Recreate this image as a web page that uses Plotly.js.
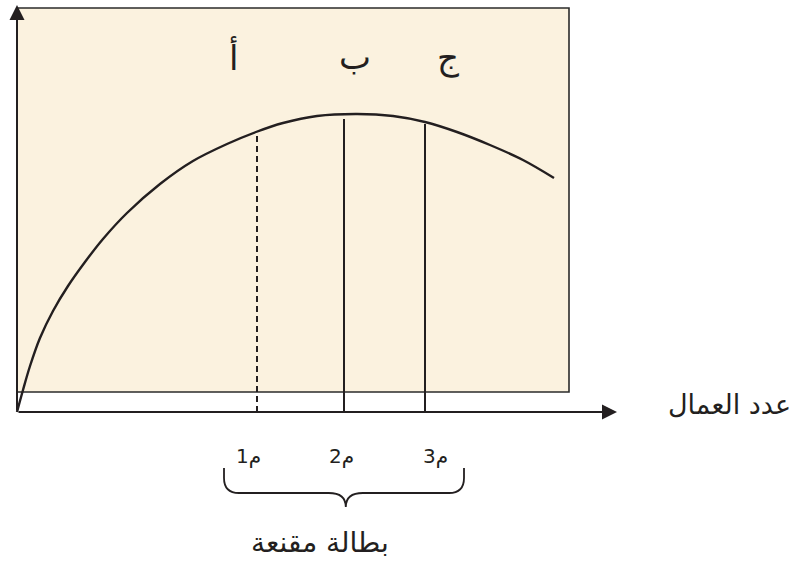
<!DOCTYPE html>
<html>
<head>
<meta charset="utf-8">
<script src="https://cdn.plot.ly/plotly-3.0.1.min.js"></script>
<style>html,body{margin:0;padding:0;background:#fff;}#chart{width:795px;height:570px;}</style>
</head>
<body>
<div id="chart"></div>
<script>
// Total product curve (number of workers vs output)
const workers = [0, 1, 2.17, 3.83, 6, 8.5, 11.33, 14.33, 18.33, 23.83, 29.33, 35, 39.83, 44.33, 50, 56.67, 62.67, 68, 73.33, 78.83, 84.33, 89.5];
const output  = [0, 5.5, 11.5, 18.5, 25.25, 31.5, 37.5, 43.25, 49.75, 57, 62.75, 67, 70, 72.25, 74, 74.5, 74, 72.5, 70, 66.75, 63, 58.5];

// Marked worker levels and the heights of their vertical lines
const levelLabels = ["م1", "م2", "م3"];
const levels      = [40, 54.5, 68];
const levelTops   = [70, 73.25, 72];
const pointLabels = ["أ", "ب", "ج"];
const pointLabelX = [36, 56.3, 71.8];

const xTitle = "عدد العمال";
const braceTitle = "بطالة مقنعة";

// Frame (beige panel) extent in data units
const panelX = [0, 92];
const panelY = [5, 101];
const xAxisEnd = 100;
const yAxisEnd = 101.75;
const braceSpan = [34.5, 74.5];

const ink = '#231f20';
const traces = [
  {x: workers, y: output, mode: 'lines', line: {color: ink, width: 2.4, shape: 'spline', smoothing: 1}, hoverinfo: 'skip'},
  {x: [levels[0], levels[0]], y: [0, levelTops[0]], mode: 'lines', line: {color: ink, width: 2, dash: '6px,4px'}, hoverinfo: 'skip'},
  {x: [levels[1], levels[1], null, levels[2], levels[2]], y: [0, levelTops[1], null, 0, levelTops[2]], mode: 'lines', line: {color: ink, width: 2}, hoverinfo: 'skip'}
];

// brace path in data units built from its span
function bracePath(l, r) {
  const c = (l + r) / 2 + 0.3;
  const yTop = -14, yEnd = -16.5, yMid = -20.25, yTip = -23.75, k = 2.5, m = 2.85;
  return `M ${l} ${yTop} L ${l} ${yEnd} Q ${l} ${yMid} ${l + k} ${yMid} L ${c - m} ${yMid} Q ${c} ${yMid} ${c} ${yTip} ` +
         `Q ${c} ${yMid} ${c + m} ${yMid} L ${r - k} ${yMid} Q ${r} ${yMid} ${r} ${yEnd} L ${r} ${yTop}`;
}

const shapes = [
  {type: 'rect', xref: 'x', yref: 'y', x0: panelX[0], x1: panelX[1], y0: panelY[0], y1: panelY[1],
   fillcolor: '#FBF2DF', line: {color: '#2b2b2b', width: 1.6}, layer: 'below'},
  {type: 'path', xref: 'x', yref: 'y', path: bracePath(braceSpan[0], braceSpan[1]), line: {color: ink, width: 1.8}}
];

const arial = 'DejaVu Sans, Liberation Sans, sans-serif';
const annotations = [
  {x: xAxisEnd, y: 0, ax: 0, ay: 0, axref: 'x', ayref: 'y', xref: 'x', yref: 'y', text: '', showarrow: true,
   arrowhead: 2, arrowsize: 1.5, arrowwidth: 2, arrowcolor: ink},
  {x: 0, y: yAxisEnd, ax: 0, ay: 0, axref: 'x', ayref: 'y', xref: 'x', yref: 'y', text: '', showarrow: true,
   arrowhead: 2, arrowsize: 1.5, arrowwidth: 2, arrowcolor: ink},
  {x: 118.7, y: 2, xref: 'x', yref: 'y', text: xTitle, showarrow: false, font: {family: arial, size: 27, color: ink}},
  {x: 50.5, y: -32.6, xref: 'x', yref: 'y', text: braceTitle, showarrow: false, font: {family: arial, size: 28, color: ink}}
];
levelLabels.forEach((t, i) => {
  const off = [-1.5, -0.4, 1.7][i];
  annotations.push({x: levels[i] + off, y: -11, xref: 'x', yref: 'y', text: t, showarrow: false,
    font: {family: arial, size: 20, color: ink}});
});
pointLabels.forEach((t, i) => {
  annotations.push({x: pointLabelX[i], y: 88.75, xref: 'x', yref: 'y', text: t, showarrow: false,
    font: {family: arial, size: 34, color: ink}});
});

const layout = {
  width: 795, height: 570,
  margin: {l: 0, r: 0, t: 0, b: 0, pad: 0},
  paper_bgcolor: '#ffffff', plot_bgcolor: '#ffffff',
  showlegend: false,
  xaxis: {visible: false, range: [-17/6, 778/6], fixedrange: true},
  yaxis: {visible: false, range: [-39.5, 103], fixedrange: true},
  shapes: shapes,
  annotations: annotations
};
Plotly.newPlot('chart', traces, layout, {staticPlot: true, displayModeBar: false});
</script>
</body>
</html>
